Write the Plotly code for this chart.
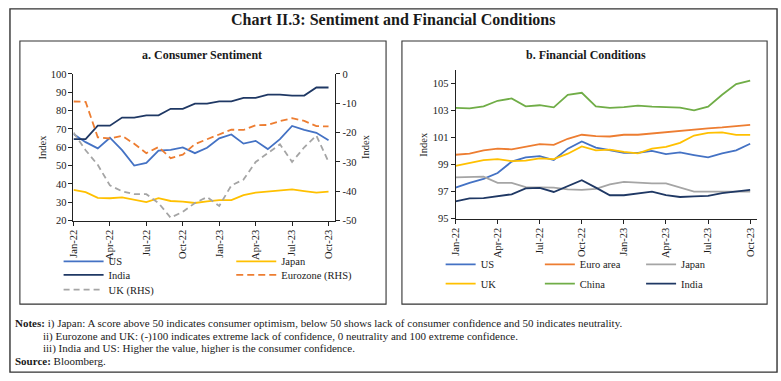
import plotly.graph_objects as go

W, H = 781, 381

# ---------------- data ----------------
months = ["Jan-22", "Feb-22", "Mar-22", "Apr-22", "May-22", "Jun-22", "Jul-22", "Aug-22",
          "Sep-22", "Oct-22", "Nov-22", "Dec-22", "Jan-23", "Feb-23", "Mar-23", "Apr-23",
          "May-23", "Jun-23", "Jul-23", "Aug-23", "Sep-23", "Oct-23"]

# a. Consumer Sentiment (left axis)
cs_us = [67.2, 62.8, 59.4, 65.2, 58.4, 50.0, 51.5, 58.2, 58.6, 59.9, 56.8, 59.7,
         64.9, 67.0, 62.0, 63.5, 59.0, 64.4, 71.6, 69.5, 67.9, 63.8]
cs_india = [64.4, 64.4, 71.8, 71.8, 76.2, 76.2, 77.4, 77.4, 81.0, 81.0, 83.8, 83.8,
            85.0, 85.0, 86.9, 86.9, 88.7, 88.7, 88.2, 88.2, 92.6, 92.6]
cs_japan = [36.7, 35.5, 32.4, 32.2, 32.7, 31.4, 30.1, 32.2, 30.7, 30.4, 29.6, 30.5,
            31.2, 31.2, 33.9, 35.3, 35.8, 36.1, 37.0, 36.1, 35.3, 35.8]
# right axis (RHS)
cs_eurozone = [-9.4, -9.5, -21.6, -22.0, -21.1, -23.8, -27.0, -24.9, -28.7, -27.5, -23.9, -22.2,
               -20.7, -19.0, -19.1, -17.5, -17.4, -16.1, -15.1, -16.0, -17.8, -17.9]
cs_uk = [-20, -26, -31, -38, -40, -41, -41, -44, -49, -47, -44, -42,
         -45, -38, -36, -30, -27, -24, -30, -25, -21, -30]

# b. Financial Conditions
fc_us = [97.29, 97.65, 97.94, 98.37, 99.21, 99.53, 99.62, 99.33, 100.17, 100.70, 100.25, 100.05,
         99.87, 99.86, 100.00, 99.77, 99.89, 99.70, 99.53, 99.82, 100.05, 100.53]
fc_euro = [99.72, 99.80, 100.05, 100.17, 100.12, 100.30, 100.50, 100.45, 100.90, 101.20, 101.10, 101.07,
           101.20, 101.20, 101.30, 101.38, 101.45, 101.55, 101.67, 101.74, 101.81, 101.93]
fc_japan = [98.05, 98.05, 98.10, 97.65, 97.65, 97.33, 97.33, 97.29, 97.17, 97.12, 97.20, 97.53,
            97.72, 97.65, 97.60, 97.60, 97.29, 97.00, 97.00, 97.00, 96.95, 97.00]
fc_uk = [98.90, 99.10, 99.33, 99.40, 99.25, 99.28, 99.45, 99.40, 99.80, 100.34, 100.05, 100.10,
         99.93, 99.82, 100.17, 100.30, 100.60, 101.14, 101.33, 101.38, 101.19, 101.19]
fc_china = [103.18, 103.15, 103.30, 103.71, 103.88, 103.30, 103.38, 103.22, 104.15, 104.30, 103.30, 103.18,
            103.24, 103.35, 103.27, 103.24, 103.20, 103.00, 103.27, 104.15, 104.94, 105.20]
fc_india = [96.28, 96.50, 96.52, 96.64, 96.80, 97.24, 97.28, 96.97, 97.40, 97.84, 97.29, 96.73,
            96.73, 96.85, 97.00, 96.73, 96.60, 96.64, 96.68, 96.88, 97.00, 97.12]

left_ticks_rhs = [0, -10, -20, -30, -40, -50]
left_ticks_lhs = [20, 30, 40, 50, 60, 70, 80, 90, 100]
right_ticks = [95, 97, 99, 101, 103, 105]

# ---------------- style ----------------
FONT = "Liberation Serif"
C_BLUE = "#4472C4"
C_NAVY = "#1F3864"
C_YEL = "#FFC000"
C_ORG = "#ED7D31"
C_GRY = "#A5A5A5"
C_GRN = "#70AD47"
TXT = "#1a1a1a"


def px(x):
    return x / W


def py(y):
    return 1 - y / H


idx = list(range(len(months)))
tick_idx = idx[::3]
tick_lab = months[::3]

fig = go.Figure()

# legend placement (pixel positions: legend left edge, entry centre)
LEG_ITEM_W = 40
legend_pos = {
    "legend": (53, 264), "legend2": (227, 264),
    "legend3": (53, 278), "legend4": (227, 278),
    "legend5": (53, 293),
    "legend6": (438, 267), "legend7": (538, 267), "legend8": (640, 267),
    "legend9": (438, 287), "legend10": (538, 287), "legend11": (640, 287),
}


def add(x, y, name, color, xa, ya, leg, dash=None, width=1.8):
    fig.add_trace(go.Scatter(
        x=x, y=y, name=name, mode="lines", xaxis=xa, yaxis=ya, legend=leg,
        line=dict(color=color, width=width, dash=dash), hoverinfo="skip"))


# left panel
add(idx, cs_us, "US", C_BLUE, "x", "y", "legend")
add(idx, cs_japan, "Japan", C_YEL, "x", "y", "legend2")
add(idx, cs_india, "India", C_NAVY, "x", "y", "legend3")
add(idx, cs_eurozone, "Eurozone (RHS)", C_ORG, "x", "y2", "legend4", dash="7px,4px")
add(idx, cs_uk, "UK (RHS)", C_GRY, "x", "y2", "legend5", dash="6px,4px")
# right panel
add(idx, fc_us, "US", C_BLUE, "x2", "y3", "legend6")
add(idx, fc_euro, "Euro area", C_ORG, "x2", "y3", "legend7")
add(idx, fc_japan, "Japan", C_GRY, "x2", "y3", "legend8")
add(idx, fc_uk, "UK", C_YEL, "x2", "y3", "legend9")
add(idx, fc_china, "China", C_GRN, "x2", "y3", "legend10")
add(idx, fc_india, "India", C_NAVY, "x2", "y3", "legend11")

tickfont = dict(family=FONT, size=10.5, color=TXT)
axline = dict(showline=True, linecolor="#222222", linewidth=1, showgrid=False, zeroline=False,
              ticks="outside", ticklen=4, tickcolor="#222222", tickwidth=1, tickfont=tickfont)

layout = dict(
    width=W, height=H, margin=dict(l=0, r=0, t=0, b=0),
    paper_bgcolor="white", plot_bgcolor="rgba(0,0,0,0)",
    font=dict(family=FONT, size=10.5, color=TXT),
    xaxis=dict(domain=[px(68), px(332)], range=[0, 21.57], tickvals=tick_idx, ticktext=tick_lab,
               tickangle=-90, anchor="y", **axline),
    yaxis=dict(domain=[py(222), py(71)], range=[20, 100], tickvals=left_ticks_lhs,
               anchor="x", **axline),
    yaxis2=dict(overlaying="y", side="right", range=[-50, 0], tickvals=left_ticks_rhs,
                ticktext=[str(v) for v in left_ticks_rhs], anchor="x", **axline),
    xaxis2=dict(domain=[px(453), px(757)], range=[0, 21.5], tickvals=tick_idx, ticktext=tick_lab,
                tickangle=-90, anchor="y3", **axline),
    yaxis3=dict(domain=[py(220), py(66.7)], range=[95, 106], tickvals=right_ticks,
                anchor="x2", **axline),
    showlegend=True,
)

for name, (lx, ly) in legend_pos.items():
    iw = LEG_ITEM_W if name in ("legend", "legend2", "legend3", "legend4", "legend5") else 30
    layout[name] = dict(x=px(lx), y=py(ly), xanchor="left", yanchor="middle",
                        orientation="v", bgcolor="rgba(0,0,0,0)", borderwidth=0,
                        font=dict(family=FONT, size=10.5, color=TXT), itemwidth=iw)

fig.update_layout(**layout)

# panel frames
frames = [(4, 4, 777, 378, 1.4), (14, 37, 383, 308, 1.1), (399, 37, 767, 308, 1.1)]
for x0, y0, x1, y1, lw in frames:
    fig.add_shape(type="rect", xref="paper", yref="paper", x0=px(x0), x1=px(x1),
                  y0=py(y1), y1=py(y0), line=dict(color="#333333", width=lw), layer="below")


def ann(text, x, y, size=10.5, bold=False, xanchor="center", angle=0):
    fig.add_annotation(text=("<b>%s</b>" % text) if bold else text, x=px(x), y=py(y),
                       xref="paper", yref="paper", showarrow=False, xanchor=xanchor,
                       yanchor="middle", textangle=angle,
                       font=dict(family=FONT, size=size, color=TXT))


ann("Chart II.3: Sentiment and Financial Conditions", 391, 15, size=16, bold=True)
ann("a. Consumer Sentiment", 198, 52, size=12, bold=True)
ann("b. Financial Conditions", 584, 52, size=12, bold=True)
ann("Index", 37, 146, angle=-90)
ann("Index", 363, 146, angle=-90)
ann("Index", 421, 143, angle=-90)

ann("<b>Notes:</b> i) Japan: A score above 50 indicates consumer optimism, below 50 shows lack of "
    "consumer confidence and 50 indicates neutrality.", 7, 328, size=11, xanchor="left")
ann("ii) Eurozone and UK: (-)100 indicates extreme lack of confidence, 0 neutrality and 100 "
    "extreme confidence.", 35, 341, size=11, xanchor="left")
ann("iii) India and US: Higher the value, higher is the consumer confidence.", 35, 354,
    size=11, xanchor="left")
ann("<b>Source:</b> Bloomberg.", 7, 367, size=11, xanchor="left")

fig.write_html("out.html", config={"displayModeBar": False},
               post_script="document.body.style.margin='0px';")
